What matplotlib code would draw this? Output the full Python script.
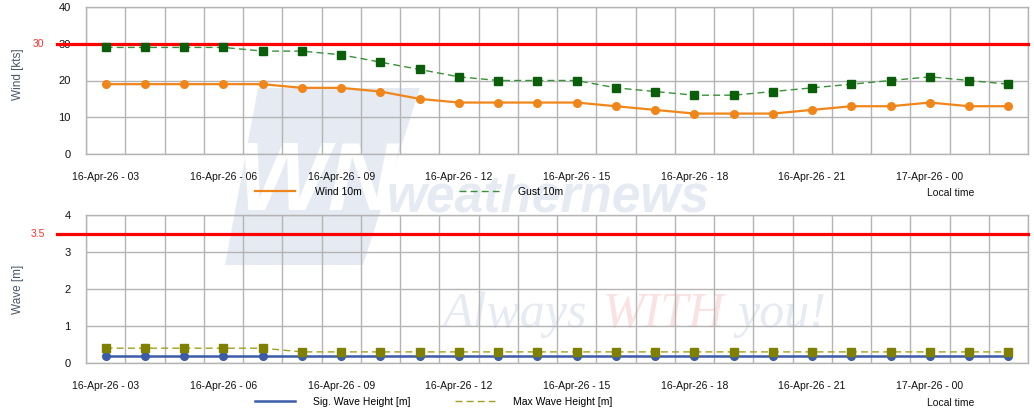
import matplotlib.pyplot as plt
import matplotlib.transforms as mtransforms
from matplotlib.patches import Polygon
from matplotlib.ticker import MultipleLocator, FixedLocator

plt.rcParams['font.family'] = ['Liberation Sans', 'DejaVu Sans']

# hourly steps, 16-Apr-26 03 local time onwards
hours = list(range(24))
tick_pos = [0, 3, 6, 9, 12, 15, 18, 21]
tick_labels = ['16-Apr-26 - 03', '16-Apr-26 - 06', '16-Apr-26 - 09', '16-Apr-26 - 12',
               '16-Apr-26 - 15', '16-Apr-26 - 18', '16-Apr-26 - 21', '17-Apr-26 - 00']

wind = [19, 19, 19, 19, 19, 18, 18, 17, 15, 14, 14, 14, 14, 13, 12, 11, 11, 11, 12, 13, 13, 14, 13, 13]
gust = [29, 29, 29, 29, 28, 28, 27, 25, 23, 21, 20, 20, 20, 18, 17, 16, 16, 17, 18, 19, 20, 21, 20, 19]
sig_wave = [0.2] * 24
max_wave = [0.4, 0.4, 0.4, 0.4, 0.4] + [0.3] * 19

wind_limit = 30
wave_limit = 3.5

W, H = 1034, 412
fig = plt.figure(figsize=(W / 100, H / 100), dpi=100)
fig.patch.set_facecolor('white')

ax1 = fig.add_axes([86 / W, 1 - 154 / H, 942 / W, 147 / H])
ax2 = fig.add_axes([86 / W, 1 - 363 / H, 942 / W, 148 / H])

grid_c = '#b4b4b4'


def style_axis(ax, ymax, ystep, label, limit, limit_txt):
    ax.set_facecolor('none')
    ax.set_xlim(-0.5, 23.5)
    ax.set_ylim(0, ymax)
    ax.yaxis.set_major_locator(MultipleLocator(ystep))
    ax.xaxis.set_major_locator(FixedLocator(tick_pos))
    ax.set_xticklabels(tick_labels)
    ax.xaxis.set_minor_locator(FixedLocator([h - 0.5 for h in range(25)]))
    ax.grid(True, which='minor', axis='x', color=grid_c, lw=1.0)
    ax.grid(True, which='major', axis='y', color=grid_c, lw=1.0)
    ax.tick_params(which='both', length=0)
    ax.tick_params(axis='y', pad=11, labelsize=8, labelcolor='#111111')
    ax.tick_params(axis='x', pad=13, labelsize=7.5, labelcolor='#111111')
    for s in ax.spines.values():
        s.set_color(grid_c)
        s.set_linewidth(1.0)
    ax.set_ylabel(label, fontsize=8.5, color='#4a5666')
    ax.axhline(limit, xmin=-0.031, xmax=1, color='#ff0000', lw=2.3,
               clip_on=False, zorder=4)
    trans = mtransforms.blended_transform_factory(ax.transAxes, ax.transData)
    ax.text(-0.051, limit, limit_txt, transform=trans, color='#ff3030',
            fontsize=7.5, ha='center', va='center')
    ax.set_axisbelow(True)


style_axis(ax1, 40, 10, 'Wind [kts]', wind_limit, '30')
style_axis(ax2, 4, 1, 'Wave [m]', wave_limit, '3.5')
ax1.yaxis.set_label_coords(-0.066, 0.54)
ax2.yaxis.set_label_coords(-0.066, 0.5)

l1, = ax1.plot(hours, wind, color='#f0861a', lw=1.6, marker='o', ms=5.5,
               label='Wind 10m', zorder=5)
l2, = ax1.plot(hours, gust, color='#3a8f3a', lw=1.0, ls=(0, (5, 3)),
               marker='s', ms=6, mfc='#0a5e0a', mec='#0a5e0a',
               label='Gust 10m', zorder=5)

l3, = ax2.plot(hours, sig_wave, color='#3c5ca8', lw=1.8, marker='o', ms=5.5,
               label='Sig. Wave Height [m]', zorder=5)
l4, = ax2.plot(hours, max_wave, color='#a0a020', lw=1.0, ls=(0, (5, 3)),
               marker='s', ms=6, mfc='#808000', mec='#808000',
               label='Max Wave Height [m]', zorder=5)

leg1 = ax1.legend(handles=[l1, l2], loc='center left', ncol=2,
                  bbox_to_anchor=(255 / W, 1 - 192 / H), bbox_transform=fig.transFigure,
                  frameon=False, fontsize=7.5, borderpad=0, borderaxespad=0,
                  handlelength=3.85, handletextpad=1.9, columnspacing=9.3)
for h in leg1.legend_handles:
    h.set_marker('')
leg2 = ax2.legend(handles=[l3, l4], loc='center left', ncol=2,
                  bbox_to_anchor=(255 / W, 1 - 402 / H), bbox_transform=fig.transFigure,
                  frameon=False, fontsize=7.5, borderpad=0, borderaxespad=0,
                  handlelength=3.85, handletextpad=1.7, columnspacing=4.3)
for h in leg2.legend_handles:
    h.set_marker('')

fig.text(927 / W, 1 - 193 / H, 'Local time', fontsize=7.5, va='center', color='#111111')
fig.text(927 / W, 1 - 403 / H, 'Local time', fontsize=7.5, va='center', color='#111111')

# faint watermark behind the plots
wm = '#e6eaf3'
logo = Polygon([(225 / W, 1 - 265 / H), (258 / W, 1 - 88 / H),
                (420 / W, 1 - 88 / H), (363 / W, 1 - 265 / H)],
               closed=True, transform=fig.transFigure, facecolor=wm,
               edgecolor='none', zorder=-2)
fig.patches.append(logo)
fig.text(318 / W, 1 - 185 / H, 'WN', fontsize=70, fontweight='bold', style='italic',
         color='white', ha='center', va='center', zorder=-1)
fig.text(548 / W, 1 - 212 / H, 'weathernews', fontsize=37, fontweight='bold',
         style='italic', color=wm, ha='center', va='baseline', zorder=-1)
serif = ['Liberation Serif', 'DejaVu Serif']
fig.text(443 / W, 1 - 327 / H, 'Always', fontsize=36, style='italic', family=serif,
         color=wm, ha='left', va='baseline', zorder=-1)
fig.text(603 / W, 1 - 327 / H, 'WITH', fontsize=36, style='italic', family=serif,
         color='#fbe2e2', ha='left', va='baseline', zorder=-1)
fig.text(737 / W, 1 - 327 / H, 'you!', fontsize=36, style='italic', family=serif,
         color=wm, ha='left', va='baseline', zorder=-1)

fig.savefig('out.png', dpi=100)
